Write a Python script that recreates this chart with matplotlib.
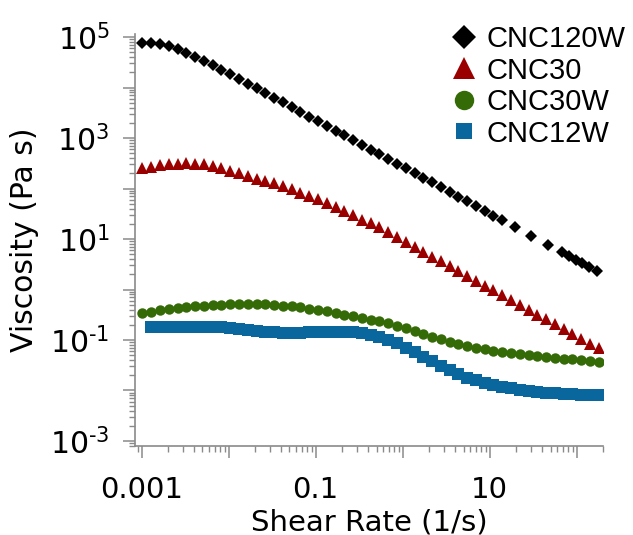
import math
import matplotlib
matplotlib.use("Agg")
import matplotlib.pyplot as plt
from matplotlib.ticker import LogLocator, FuncFormatter, NullFormatter
from matplotlib.lines import Line2D

# ---- data -------------------------------------------------------------
shear_rate = [0.00102, 0.00129, 0.00163, 0.00205, 0.00259, 0.00327, 0.00412, 0.00520,
              0.00655, 0.00826, 0.0104, 0.0132, 0.0166, 0.0209, 0.0264, 0.0333,
              0.0420, 0.0530, 0.0667, 0.0841, 0.106, 0.134, 0.169, 0.213, 0.269,
              0.339, 0.428, 0.540, 0.679, 0.857, 1.08, 1.37, 1.72, 2.17, 2.74,
              3.45, 4.36, 5.50, 6.92, 8.73, 11.0, 13.9, 17.5, 22.1, 27.9, 35.2,
              44.4, 56.0, 70.5, 88.9, 112, 142, 179]

cnc120w_rate = [0.00102, 0.00129, 0.00163, 0.00205, 0.00259, 0.00327, 0.00412, 0.00520,
                0.00655, 0.00826, 0.0104, 0.0132, 0.0166, 0.0209, 0.0264, 0.0333,
                0.0420, 0.0530, 0.0667, 0.0841, 0.106, 0.134, 0.169, 0.213, 0.269,
                0.339, 0.428, 0.540, 0.679, 0.857, 1.08, 1.37, 1.72, 2.17, 2.74,
                3.45, 4.36, 5.50, 6.92, 8.73, 11.0, 13.9,
                19.5, 29.6, 46.9, 67.3, 81.6, 98.2, 115, 138, 171]
cnc120w = [7.76e4, 7.59e4, 7.24e4, 6.61e4, 5.75e4, 4.90e4, 4.07e4, 3.39e4,
           2.79e4, 2.26e4, 1.84e4, 1.49e4, 1.20e4, 9.70e3, 7.83e3, 6.31e3,
           5.09e3, 4.11e3, 3.31e3, 2.67e3, 2.16e3, 1.74e3, 1.40e3, 1.13e3, 912,
           735, 593, 479, 385, 310, 251, 202, 163, 132, 106,
           85.5, 69.2, 55.7, 44.9, 36.3, 29.2, 23.6,
           17.2, 11.6, 7.60, 5.43, 4.54, 3.82, 3.30, 2.78, 2.28]

cnc30 = [251, 269, 288, 302, 313, 316, 313, 302, 279, 251, 224, 200, 178, 158,
         141, 126, 111, 96.6, 83.2, 71.6, 61.0, 51.3, 43.2, 35.9, 29.5, 24.3,
         20.9, 17.2, 14.0, 11.2, 8.91, 7.08, 5.62, 4.49, 3.60, 2.88, 2.32, 1.86,
         1.49, 1.19, 0.957, 0.767, 0.617, 0.494, 0.396, 0.318, 0.255, 0.205,
         0.164, 0.132, 0.106, 0.0847, 0.0679]

cnc30w = [0.339, 0.363, 0.389, 0.412, 0.437, 0.452, 0.468, 0.481, 0.490, 0.499,
          0.505, 0.509, 0.511, 0.509, 0.505, 0.495, 0.481, 0.462, 0.442, 0.419,
          0.394, 0.367, 0.340, 0.316, 0.294, 0.274, 0.254, 0.234, 0.214, 0.193,
          0.172, 0.151, 0.133, 0.117, 0.105, 0.0933, 0.0841, 0.0767, 0.0708,
          0.0661, 0.0617, 0.0579, 0.0550, 0.0525, 0.0501, 0.0479, 0.0460,
          0.0444, 0.0427, 0.0412, 0.0398, 0.0385, 0.0372]

cnc12w_rate = shear_rate[1:]
cnc12w = [0.180, 0.181, 0.182, 0.183, 0.184, 0.184, 0.184, 0.183, 0.180, 0.175,
          0.168, 0.160, 0.152, 0.146, 0.142, 0.139, 0.138, 0.139, 0.141, 0.143,
          0.145, 0.146, 0.145, 0.142, 0.136, 0.126, 0.114, 0.100, 0.0861, 0.0708,
          0.0575, 0.0468, 0.0380, 0.0309, 0.0251, 0.0209, 0.0180, 0.0158, 0.0141,
          0.0129, 0.0119, 0.0110, 0.0102, 0.00977, 0.00940, 0.00908, 0.00881,
          0.00859, 0.00841, 0.00828, 0.00818, 0.00813]

series_labels = ["CNC120W", "CNC30", "CNC30W", "CNC12W"]
x_tick_labels = {0.001: "0.001", 0.1: "0.1", 10: "10"}
y_label_exponents = [-3, -1, 1, 3, 5]

# ---- style ------------------------------------------------------------
c_black = "#000000"
c_red = "#9a0000"
c_green = "#356b06"
c_blue = "#0a679e"
axis_gray = "#8a8a8a"

plt.rcParams["font.family"] = ["DejaVu Sans"]
plt.rcParams["mathtext.fontset"] = "dejavusans"

fig = plt.figure(figsize=(6.33, 5.35), dpi=100)
ax = fig.add_axes([0.2133, 0.1664, 0.7393, 0.77])

ax.plot(cnc12w_rate, cnc12w, ls="none", marker="s", ms=8.0,
        color=c_blue, mec=c_blue, mew=0, zorder=2)
ax.plot(shear_rate, cnc30w, ls="none", marker="o", ms=7.5,
        color=c_green, mec=c_green, mew=0, zorder=3)
ax.plot(shear_rate, cnc30, ls="none", marker="^", ms=8.0,
        color=c_red, mec=c_red, mew=0, zorder=4)
ax.plot(cnc120w_rate, cnc120w, ls="none", marker="D", ms=6.5,
        color=c_black, mec=c_black, mew=0, zorder=5)

ax.set_xscale("log")
ax.set_yscale("log")
ax.set_xlim(8.4e-4, 200)
ax.set_ylim(7.96e-4, 1.15e5)

for side in ("top", "right"):
    ax.spines[side].set_visible(False)
for side in ("left", "bottom"):
    ax.spines[side].set_color(axis_gray)
    ax.spines[side].set_linewidth(1.2)

ax.xaxis.set_major_locator(LogLocator(base=10, numticks=20))
ax.xaxis.set_minor_locator(LogLocator(base=10, subs=[2, 3, 4, 5, 6, 7, 8, 9], numticks=40))
ax.yaxis.set_major_locator(LogLocator(base=10, numticks=20))
ax.yaxis.set_minor_locator(LogLocator(base=10, subs=[2, 3, 4, 5, 6, 7, 8, 9], numticks=40))


def xfmt(v, pos):
    for k, lab in x_tick_labels.items():
        if abs(v - k) / k < 1e-6:
            return lab
    return ""


def yfmt(v, pos):
    e = round(math.log10(v))
    if e in y_label_exponents and abs(v / 10 ** e - 1) < 1e-6:
        exp_txt = ("\u2010%d" % (-e)) if e < 0 else "%d" % e
        return r"$\mathdefault{10^{%s}}$" % exp_txt
    return ""


ax.xaxis.set_major_formatter(FuncFormatter(xfmt))
ax.yaxis.set_major_formatter(FuncFormatter(yfmt))
ax.xaxis.set_minor_formatter(NullFormatter())
ax.yaxis.set_minor_formatter(NullFormatter())

ax.tick_params(axis="both", which="major", direction="out", length=8.5, width=1.1,
               color=axis_gray, labelcolor="black")
ax.tick_params(axis="both", which="minor", direction="out", length=4.5, width=1.0,
               color=axis_gray)
ax.tick_params(axis="x", which="major", pad=13, labelsize=21)
ax.tick_params(axis="y", which="major", pad=10, labelsize=21.5)

ax.set_xlabel("Shear Rate (1/s)", fontsize=21, labelpad=3)
ax.set_ylabel("Viscosity (Pa s)", fontsize=21.5, labelpad=8)

handles = [
    Line2D([], [], ls="none", marker="D", ms=12.7, color=c_black, mew=0),
    Line2D([], [], ls="none", marker="^", ms=16, color=c_red, mew=0),
    Line2D([], [], ls="none", marker="o", ms=14, color=c_green, mew=0),
    Line2D([], [], ls="none", marker="s", ms=12, color=c_blue, mew=0),
]
leg = fig.legend(handles, series_labels, loc="upper left",
                 bbox_to_anchor=(0.7093, 0.953), frameon=False,
                 prop={"family": "Liberation Sans", "size": 21},
                 handlelength=1.0, handletextpad=0.3, labelspacing=0.12,
                 borderaxespad=0.0, borderpad=0.0)

fig.savefig("out.png", dpi=100)
